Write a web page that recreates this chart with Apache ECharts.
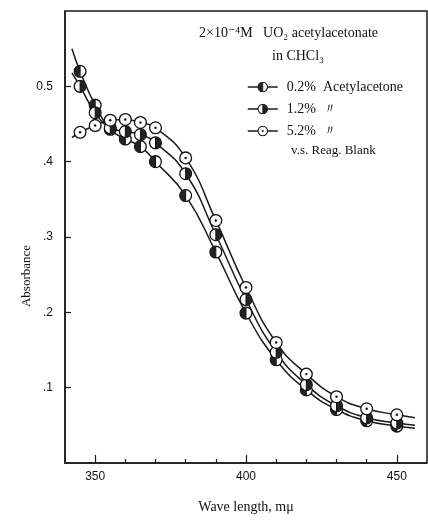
<!DOCTYPE html>
<html>
<head>
<meta charset="utf-8">
<script src="https://cdn.jsdelivr.net/npm/echarts@6/dist/echarts.min.js"></script>
<style>
  html, body { margin: 0; padding: 0; background: #fff; }
  #chart { width: 428px; height: 521px; }
</style>
</head>
<body>
<div id="chart"></div>
<script>
// wave length, mμ
var waveLength = [345, 350, 355, 360, 365, 370, 380, 390, 400, 410, 420, 430, 440, 450];
// absorbance
var abs02 = [0.520, 0.475, 0.443, 0.430, 0.420, 0.400, 0.355, 0.280, 0.199, 0.137, 0.097, 0.071, 0.056, 0.049];
var abs12 = [0.500, 0.465, 0.445, 0.440, 0.436, 0.425, 0.384, 0.303, 0.217, 0.147, 0.104, 0.076, 0.060, 0.053];
var abs52 = [0.439, 0.448, 0.455, 0.456, 0.452, 0.445, 0.405, 0.322, 0.233, 0.160, 0.118, 0.088, 0.072, 0.064];
// where the drawn curves start / stop beyond the measured points
var curveStart = [[342.3, 0.550], [342.3, 0.518], [342.3, 0.432]];
var curveEnd = [[456, 0.046], [456, 0.050], [456, 0.060]];
var seriesNames = ['0.2%  Acetylacetone', '1.2%  〃', '5.2%  〃'];
var xLabelTicks = [350, 400, 450];
var xMinorTicks = [360, 370, 380, 390, 410, 420, 430, 440];
var yTicks = [0.1, 0.2, 0.3, 0.4, 0.5];

var ink = '#1a1a1a';
var serif = "'Liberation Serif', 'DejaVu Serif', serif";
var sans = "'Liberation Sans', Arial, sans-serif";

// marker pictures: left half dark, right half dark, dotted circle
function svgSymbol(inner) {
  var s = "<svg xmlns='http://www.w3.org/2000/svg' width='28' height='28' viewBox='0 0 14 14'>" +
    "<circle cx='7' cy='7' r='5.9' fill='white' stroke='#111' stroke-width='1.3'/>" + inner + "</svg>";
  return 'image://data:image/svg+xml;charset=utf-8,' + encodeURIComponent(s);
}
var symbols = [
  svgSymbol("<path d='M7 1.1 A5.9 5.9 0 0 0 7 12.9 Z' fill='#222'/><line x1='7' y1='1' x2='7' y2='13' stroke='#111' stroke-width='1'/>"),
  svgSymbol("<path d='M7 1.1 A5.9 5.9 0 0 1 7 12.9 Z' fill='#222'/><line x1='7' y1='1' x2='7' y2='13' stroke='#111' stroke-width='1'/>"),
  svgSymbol("<circle cx='7' cy='7' r='1.2' fill='#111'/>")
];

var allAbs = [abs02, abs12, abs52];

function pairs(ys) {
  return waveLength.map(function (x, i) { return [x, ys[i]]; });
}

var series = [];
allAbs.forEach(function (ys, k) {
  // smooth curve
  series.push({
    type: 'line',
    silent: true,
    smooth: 0.5,
    showSymbol: false,
    z: 2,
    lineStyle: { color: ink, width: 1.5 },
    data: [curveStart[k]].concat(pairs(ys), [curveEnd[k]])
  });
});
allAbs.forEach(function (ys, k) {
  // measured points
  series.push({
    name: seriesNames[k],
    type: 'line',
    z: 3 + k,
    symbol: symbols[k],
    symbolSize: 14,
    lineStyle: { width: 0, opacity: 0 },
    data: pairs(ys)
  });
});

var myChart = echarts.init(document.getElementById('chart'));
myChart.setOption({
  animation: false,
  backgroundColor: '#fff',
  grid: {
    left: 65, right: 1, top: 11, bottom: 58,
    show: true, borderColor: ink, borderWidth: 1.5
  },
  legend: {
    data: seriesNames,
    orient: 'vertical',
    left: 247, top: 80, padding: 0,
    itemWidth: 30, itemHeight: 14, itemGap: 8,
    lineStyle: { color: ink, width: 1.5, opacity: 1 },
    textStyle: { fontFamily: serif, fontSize: 14, color: '#111', padding: [0, 0, 0, 4] }
  },
  xAxis: [
    {
      type: 'value', min: 340, max: 460, position: 'bottom',
      name: 'Wave length, mμ', nameLocation: 'middle', nameGap: 37,
      nameTextStyle: { fontFamily: serif, fontSize: 14, color: '#111' },
      splitLine: { show: false },
      axisLine: { lineStyle: { color: ink, width: 1.5 } },
      axisTick: { customValues: xLabelTicks, inside: true, length: 8, lineStyle: { color: ink, width: 1.2 } },
      axisLabel: { customValues: xLabelTicks, margin: 8, fontFamily: sans, fontSize: 12, color: '#111' }
    },
    {
      type: 'value', min: 340, max: 460, position: 'bottom',
      splitLine: { show: false },
      axisLine: { show: false },
      axisTick: { customValues: xMinorTicks, inside: true, length: 4, lineStyle: { color: ink, width: 1.2 } },
      axisLabel: { show: false }
    }
  ],
  yAxis: {
    type: 'value', min: 0, max: 0.6,
    splitLine: { show: false },
    axisLine: { show: true, lineStyle: { color: ink, width: 1.5 } },
    axisTick: { customValues: yTicks, inside: true, length: 6, lineStyle: { color: ink, width: 1.2 } },
    axisLabel: {
      customValues: yTicks, margin: 12, fontFamily: sans, fontSize: 12, color: '#111',
      formatter: function (v) { return v === 0.5 ? '0.5' : String(v).replace('0.', '.'); }
    }
  },
  graphic: [
    { type: 'text', left: 199, top: 26, style: { text: '2×10⁻⁴M   UO₂ acetylacetonate', font: '14px ' + serif, fill: '#111' } },
    { type: 'text', left: 272, top: 49, style: { text: 'in CHCl₃', font: '14px ' + serif, fill: '#111' } },
    { type: 'text', left: 291, top: 144, style: { text: 'v.s. Reag. Blank', font: '13px ' + serif, fill: '#111' } },
    { type: 'text', x: 27, y: 276, rotation: Math.PI / 2,
      style: { text: 'Absorbance', font: '13px ' + serif, fill: '#111', align: 'center', verticalAlign: 'middle' } }
  ],
  series: series
});
</script>
</body>
</html>
